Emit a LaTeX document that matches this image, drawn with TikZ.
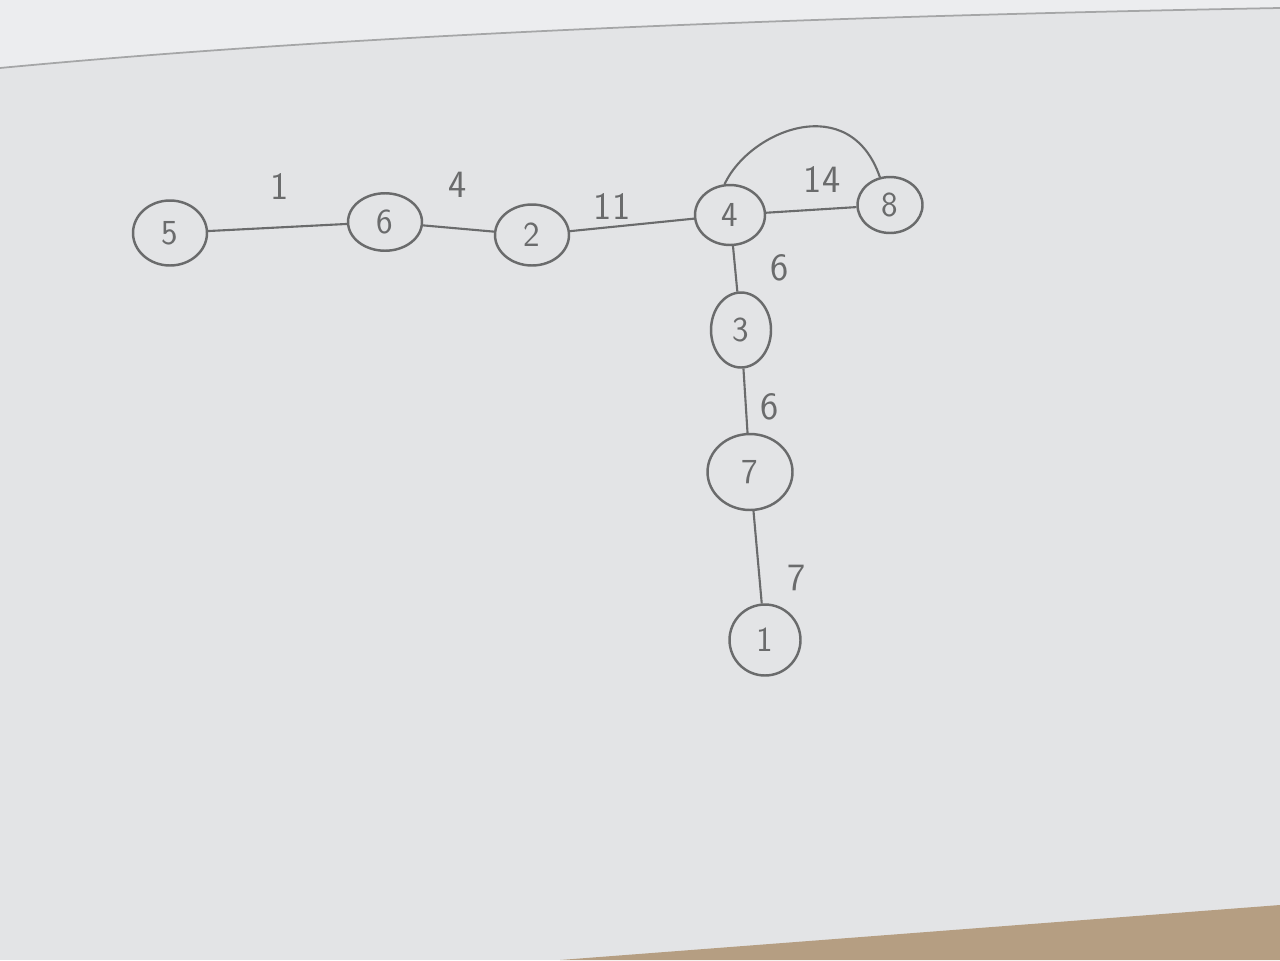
\documentclass[tikz,border=0pt]{standalone}
\usetikzlibrary{shapes.geometric}
\definecolor{paper}{HTML}{E3E4E6}
\definecolor{paperlight}{HTML}{ECEDEF}
\definecolor{pencil}{HTML}{6A6B6C}
\definecolor{wood}{HTML}{B59E82}
\begin{document}
\begin{tikzpicture}[x=0.02cm,y=-0.02cm,
  vtx/.style={ellipse,draw=pencil,line width=1.4pt,inner sep=0pt,text=pencil,
    font=\sffamily\fontsize{20}{22}\selectfont},
  edge/.style={draw=pencil,line width=1.2pt},
  wlabel/.style={text=pencil,font=\sffamily\fontsize{22}{24}\selectfont}]
\useasboundingbox (0,0) rectangle (1280,960);
\fill[paper] (0,0) rectangle (1280,960);
\fill[paperlight] (0,0) -- (0,68) .. controls (400,30) and (900,15) .. (1280,8) -- (1280,0) -- cycle;
\draw[pencil!60,line width=1pt] (0,68) .. controls (400,30) and (900,15) .. (1280,8);
\fill[wood] (560,960) -- (1280,905) -- (1280,960) -- cycle;
% vertices
\node[vtx,minimum width=74\pgflinewidth,minimum width=1.48cm,minimum height=1.3cm] (v5) at (170,233) {5};
\node[vtx,minimum width=1.48cm,minimum height=1.15cm] (v6) at (385,222) {6};
\node[vtx,minimum width=1.48cm,minimum height=1.22cm] (v2) at (532,235) {2};
\node[vtx,minimum width=1.4cm,minimum height=1.2cm] (v4) at (730,215) {4};
\node[vtx,minimum width=1.3cm,minimum height=1.12cm] (v8) at (890,205) {8};
\node[vtx,minimum width=1.2cm,minimum height=1.5cm] (v3) at (741,330) {3};
\node[vtx,minimum width=1.7cm,minimum height=1.52cm] (v7) at (750,472) {7};
\node[vtx,minimum width=1.42cm,minimum height=1.42cm] (v1) at (765,640) {1};
% edges
\draw[edge] (v5) -- (v6);
\draw[edge] (v6) -- (v2);
\draw[edge] (v2) -- (v4);
\draw[edge] (v4) -- (v8);
\draw[edge] (v4.100) .. controls (750,130) and (850,90) .. (v8.110);
\draw[edge] (v4) -- (v3);
\draw[edge] (v3) -- (v7);
\draw[edge] (v7) -- (v1);
% weights
\node[wlabel] (w1) at (280,187) {1};
\node[wlabel] (w2) at (458,185) {4};
\node[wlabel] (w3) at (612,207) {11};
\node[wlabel] (w4) at (822,180) {14};
\node[wlabel] (w5) at (780,268) {6};
\node[wlabel] (w6) at (770,407) {6};
\node[wlabel] (w7) at (797,578) {7};
\end{tikzpicture}
\end{document}
